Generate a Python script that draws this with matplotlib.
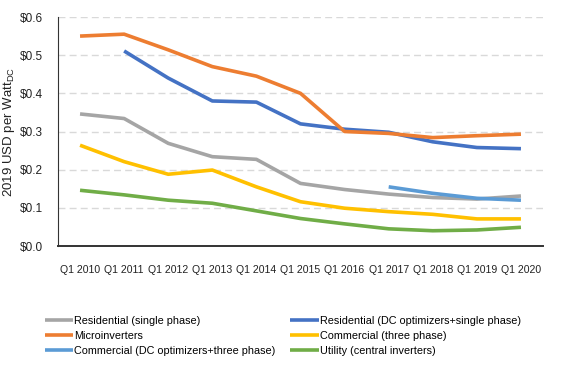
import numpy as np
import matplotlib.pyplot as plt
from matplotlib.ticker import FuncFormatter

years = ['Q1 2010', 'Q1 2011', 'Q1 2012', 'Q1 2013', 'Q1 2014', 'Q1 2015',
         'Q1 2016', 'Q1 2017', 'Q1 2018', 'Q1 2019', 'Q1 2020']

nan = np.nan
resi_single = [0.346, 0.334, 0.269, 0.234, 0.227, 0.164, 0.148, 0.136, 0.127, 0.123, 0.131]
resi_dcopt = [nan, 0.511, 0.440, 0.380, 0.377, 0.320, 0.306, 0.298, 0.273, 0.258, 0.255]
micro = [0.550, 0.555, 0.514, 0.470, 0.445, 0.400, 0.300, 0.295, 0.284, 0.289, 0.293]
comm_three = [0.264, 0.221, 0.188, 0.199, 0.155, 0.116, 0.099, 0.090, 0.083, 0.071, 0.071]
comm_dcopt = [nan, nan, nan, nan, nan, nan, nan, 0.155, 0.138, 0.125, 0.120]
utility = [0.146, 0.134, 0.120, 0.112, 0.092, 0.072, 0.058, 0.045, 0.040, 0.042, 0.049]

series = [
    ('Residential (single phase)', resi_single, '#A5A5A5'),
    ('Residential (DC optimizers+single phase)', resi_dcopt, '#4472C4'),
    ('Microinverters', micro, '#ED7D31'),
    ('Commercial (three phase)', comm_three, '#FFC000'),
    ('Commercial (DC optimizers+three phase)', comm_dcopt, '#5B9BD5'),
    ('Utility (central inverters)', utility, '#70AD47'),
]

plt.rcParams['font.family'] = ['Liberation Sans', 'DejaVu Sans']

fig = plt.figure(figsize=(5.65, 3.79), dpi=100)
ax = fig.add_axes([58 / 565, 1 - 246 / 379, (543 - 58) / 565, (246 - 17) / 379])

x = np.arange(len(years))
for name, vals, color in series:
    ax.plot(x, vals, color=color, lw=2.6, label=name, solid_capstyle='butt')

ax.set_xlim(-0.5, 10.5)
ax.set_ylim(0, 0.6)
ax.set_yticks(np.arange(0, 0.61, 0.1))
ax.yaxis.set_major_formatter(FuncFormatter(lambda v, p: '$%.1f' % v))
ax.set_xticks(x)
ax.set_xticklabels(years, fontsize=7.6, color='#222222')
ax.tick_params(axis='y', labelsize=8.5, colors='#222222', length=0, pad=11)
ax.tick_params(axis='x', length=0, pad=14)
ax.grid(axis='y', color='#D9D9D9', linestyle=(0, (5, 3)), lw=1)
ax.set_axisbelow(True)
for s in ['top', 'right']:
    ax.spines[s].set_visible(False)
ax.spines['left'].set_color('#333333')
ax.spines['bottom'].set_color('#333333')
ax.spines['bottom'].set_linewidth(1.4)

ax.set_ylabel('2019 USD per Watt$\\mathregular{_{DC}}$', fontsize=9.5, color='#222222', labelpad=2)

# legend filled row by row, like the original
handles, labels = ax.get_legend_handles_labels()
order = [0, 2, 4, 1, 3, 5]
fig.legend([handles[i] for i in order], [labels[i] for i in order], ncol=2,
           loc='upper left', bbox_to_anchor=(35 / 565, 1 - 306 / 379),
           frameon=False, fontsize=7.8, handlelength=2.6, handletextpad=0.1,
           columnspacing=1.4, labelspacing=0.45)

fig.savefig('out.png', dpi=100)
